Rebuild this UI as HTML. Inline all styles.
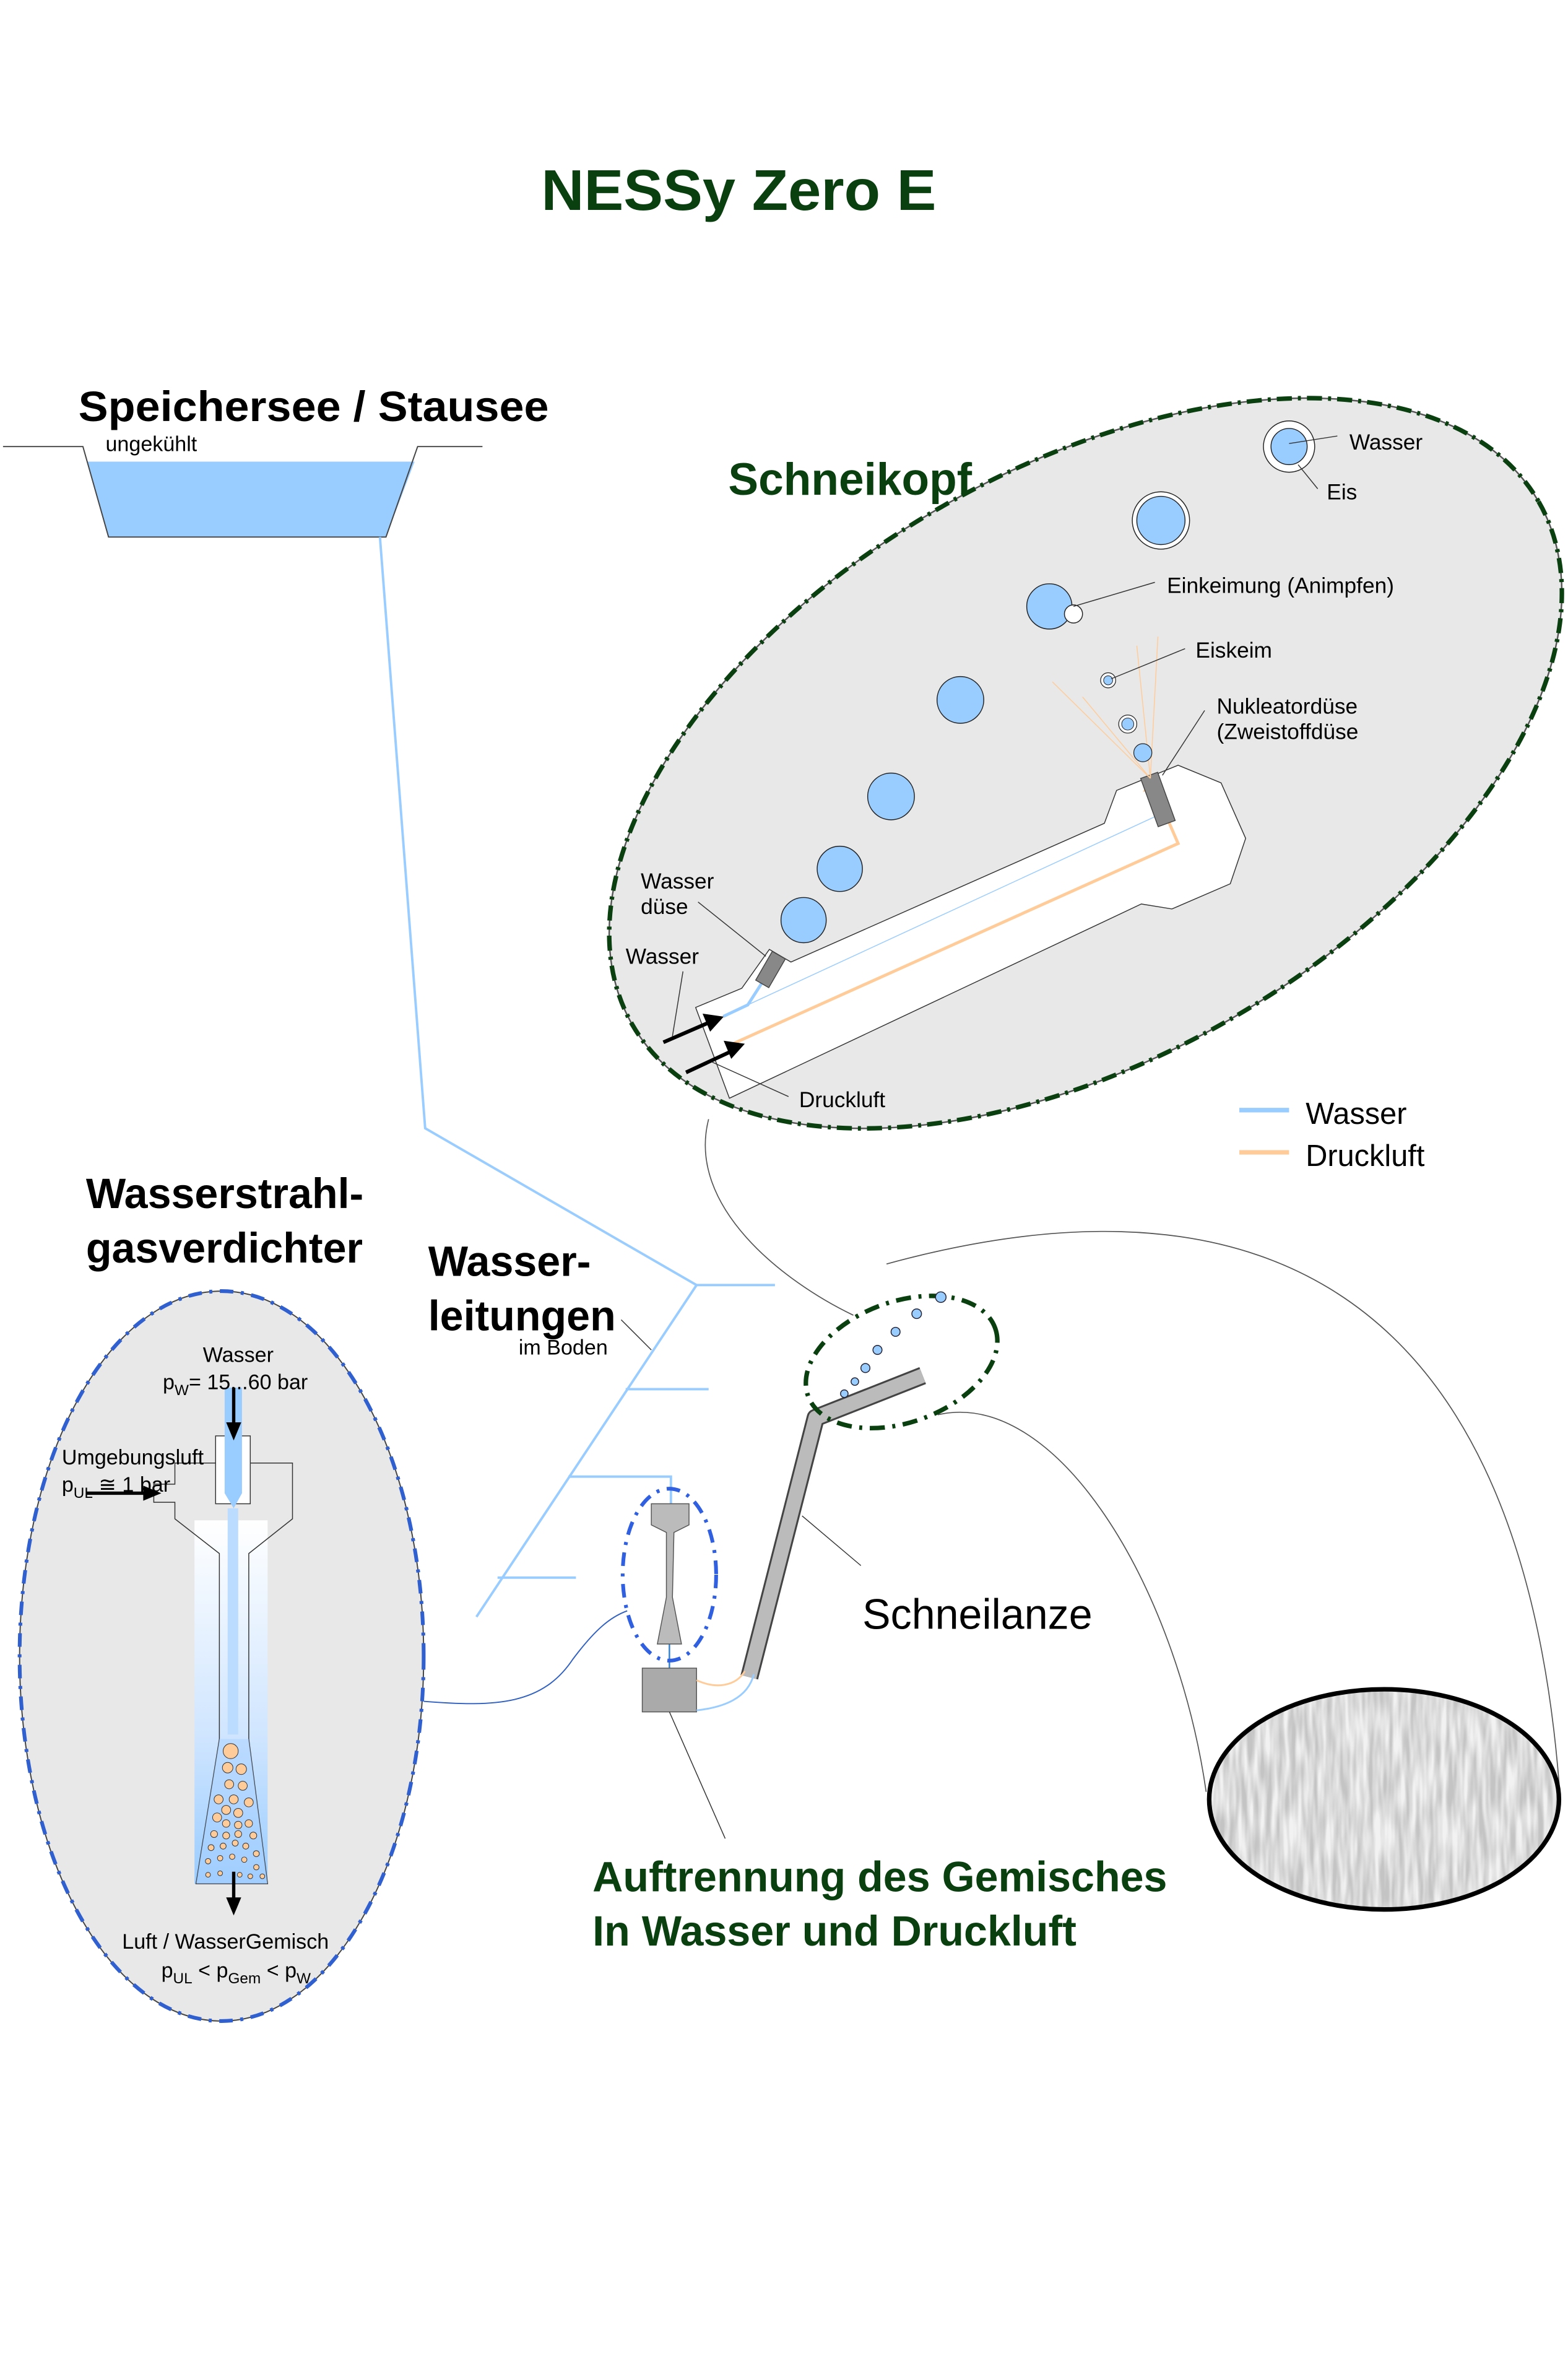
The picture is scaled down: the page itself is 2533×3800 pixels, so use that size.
<!DOCTYPE html>
<html><head><meta charset="utf-8"><style>html,body{margin:0;padding:0;background:#fff}svg{display:block}</style></head>
<body>
<svg xmlns="http://www.w3.org/2000/svg" width="2533" height="3800" viewBox="0 0 1040 1560" font-family="Liberation Sans, sans-serif">
<defs>
<linearGradient id="ej" x1="0" y1="0" x2="0" y2="1"><stop offset="0" stop-color="#fff"/><stop offset="0.6" stop-color="#cfe5ff"/><stop offset="1" stop-color="#99ccff"/></linearGradient>
<filter id="snow" x="0" y="0" width="1" height="1"><feTurbulence type="fractalNoise" baseFrequency="0.25 0.03" numOctaves="2" seed="3"/><feColorMatrix type="matrix" values="0 0 0 0 0.55  0 0 0 0 0.55  0 0 0 0 0.55  0 0 0 -2.2 1.6"/></filter>
<clipPath id="snowclip"><ellipse cx="918" cy="1193" rx="116" ry="73"/></clipPath>
</defs>
<rect width="1040" height="1560" fill="#fff"/>

<text x="490" y="139" text-anchor="middle" font-size="38" font-weight="bold" fill="#0a3f10" textLength="262" lengthAdjust="spacingAndGlyphs">NESSy Zero E</text>

<!-- lake -->
<text x="52" y="279" font-size="28" font-weight="bold" textLength="312" lengthAdjust="spacingAndGlyphs">Speichersee / Stausee</text>
<polygon points="58,306 275,306 256,356 72,356" fill="#99ccff"/>
<polyline points="2,296 55,296 72,356 256,356 277,296 320,296" fill="none" stroke="#444" stroke-width="0.8"/>
<text x="70" y="299" font-size="14">ungekühlt</text>

<!-- water lines -->
<g stroke="#99ccff" stroke-width="1.6" fill="none">
<polyline points="252,356 282,748 462,852"/>
<line x1="462" y1="852" x2="316" y2="1072"/>
<line x1="462" y1="852" x2="514" y2="852"/>
<line x1="415" y1="921" x2="470" y2="921"/>
<polyline points="377,979 445,979 445,997"/>
<line x1="330" y1="1046" x2="382" y2="1046"/>
</g>
<text x="284" y="846" font-size="28" font-weight="bold">Wasser-</text>
<text x="284" y="882" font-size="28" font-weight="bold">leitungen</text>
<text x="344" y="898" font-size="14">im Boden</text>
<line x1="412" y1="875" x2="432" y2="895" stroke="#333" stroke-width="0.6"/>

<!-- Schneikopf ellipse -->
<ellipse cx="720" cy="506" rx="347" ry="195" transform="rotate(-30 720 506)" fill="#e8e8e8" stroke="#555" stroke-width="1"/>
<ellipse cx="720" cy="506" rx="347" ry="195" transform="rotate(-30 720 506)" fill="none" stroke="#0a3f10" stroke-width="3" stroke-dasharray="10 4 2 4"/>
<text x="483" y="328" font-size="30" font-weight="bold" fill="#0a3f10">Schneikopf</text>

<polygon points="483.8,728.1 461.4,667.9 492,655.2 510.3,629.4 524.6,637.8 732.5,545.8 740.6,524 781.4,507.3 809.9,519 826.2,555.8 816,585.9 777.3,602.6 757,599.3" fill="#fff" stroke="#333" stroke-width="0.6"/>
<line x1="496" y1="666.2" x2="771.2" y2="539" stroke="#99ccff" stroke-width="0.6"/>
<polyline points="483.8,693 781.4,559.2 764,519" fill="none" stroke="#ffcc99" stroke-width="2"/>
<polygon points="763,515 758,525 768,523" fill="#ffcc99"/>
<polyline points="479.7,673.9 496,666.2 516.4,634.4" fill="none" stroke="#99ccff" stroke-width="2"/>
<rect x="506" y="632" width="10" height="22" fill="#888" stroke="#444" stroke-width="0.6" transform="rotate(30 511.5 643)"/>
<rect x="762" y="513" width="12" height="34" fill="#888" stroke="#444" stroke-width="0.6" transform="rotate(-20 768 530)"/>
<g stroke="#ffcc99" stroke-width="0.6"><line x1="763" y1="516" x2="698" y2="452"/><line x1="763" y1="516" x2="718" y2="462"/><line x1="763" y1="516" x2="754" y2="428"/><line x1="763" y1="516" x2="768" y2="422"/></g>
<g stroke="#000" stroke-width="2.5"><line x1="440" y1="691" x2="470" y2="678"/><line x1="455" y1="711" x2="485" y2="697"/></g>
<polygon points="480,674 466,672 471,684" fill="#000"/><polygon points="494,692 480,690 485,702" fill="#000"/>

<g fill="#99ccff" stroke="#222" stroke-width="0.6">
<circle cx="533" cy="610" r="15"/><circle cx="557" cy="576" r="15"/><circle cx="591" cy="528" r="15.5"/><circle cx="637" cy="464" r="15.5"/><circle cx="696" cy="402" r="15"/>
</g>
<circle cx="712" cy="407" r="6" fill="#fff" stroke="#222" stroke-width="0.6"/>
<circle cx="770" cy="345" r="19" fill="#fff" stroke="#222" stroke-width="0.6"/><circle cx="770" cy="345" r="16" fill="#99ccff" stroke="#222" stroke-width="0.6"/>
<circle cx="855" cy="296" r="17" fill="#fff" stroke="#222" stroke-width="0.6"/><circle cx="855" cy="296" r="12" fill="#99ccff" stroke="#222" stroke-width="0.6"/>
<circle cx="735" cy="451" r="5" fill="#fff" stroke="#222" stroke-width="0.5"/><circle cx="735" cy="451" r="3" fill="#99ccff" stroke="#222" stroke-width="0.4"/>
<circle cx="748" cy="480" r="6" fill="#fff" stroke="#222" stroke-width="0.5"/><circle cx="748" cy="480" r="4" fill="#99ccff" stroke="#222" stroke-width="0.4"/>
<circle cx="758" cy="499" r="6" fill="#99ccff" stroke="#222" stroke-width="0.5"/>

<g stroke="#333" stroke-width="0.6">
<line x1="855" y1="294" x2="887" y2="289"/><line x1="861" y1="308" x2="874" y2="324"/>
<line x1="712" y1="402" x2="766" y2="386"/><line x1="737" y1="450" x2="786" y2="430"/>
<line x1="771" y1="514" x2="799" y2="471"/><line x1="463" y1="598" x2="508" y2="634"/>
<line x1="453" y1="644" x2="446" y2="687"/><line x1="472" y1="704" x2="523" y2="727"/>
</g>
<g font-size="14.5">
<text x="895" y="298">Wasser</text><text x="880" y="331">Eis</text>
<text x="774" y="393">Einkeimung (Animpfen)</text><text x="793" y="436">Eiskeim</text>
<text x="807" y="473">Nukleatordüse</text><text x="807" y="490">(Zweistoffdüse</text>
<text x="425" y="589">Wasser</text><text x="425" y="606">düse</text>
<text x="415" y="639">Wasser</text><text x="530" y="734">Druckluft</text>
</g>
<line x1="822" y1="736" x2="855" y2="736" stroke="#99ccff" stroke-width="3"/>
<line x1="822" y1="764" x2="855" y2="764" stroke="#ffcc99" stroke-width="3"/>
<text x="866" y="745" font-size="20">Wasser</text><text x="866" y="773" font-size="20">Druckluft</text>

<!-- connectors -->
<g fill="none" stroke="#555" stroke-width="0.7">
<path d="M470,742 C455,800 520,850 566,872"/>
<path d="M588,838 C800,780 1010,820 1035,1195"/>
<path d="M622,938 C700,920 780,1050 800,1188"/>
</g>
<path d="M281,1128 C330,1132 360,1130 380,1100 C395,1080 405,1072 416,1068" fill="none" stroke="#3060c0" stroke-width="0.8"/>

<!-- snow -->
<g clip-path="url(#snowclip)"><rect x="800" y="1118" width="236" height="150" fill="#f2f2f2"/><rect x="800" y="1118" width="236" height="150" filter="url(#snow)"/></g>
<ellipse cx="918" cy="1193" rx="116" ry="73" fill="none" stroke="#000" stroke-width="3"/>

<!-- lance -->
<path d="M497,1112 L541,940 L612,912" fill="none" stroke="#444" stroke-width="12" stroke-linejoin="round"/>
<path d="M497,1112 L541,940 L612,912" fill="none" stroke="#bbb" stroke-width="9.5" stroke-linejoin="round"/>
<ellipse cx="598" cy="903" rx="66" ry="40" transform="rotate(-20 598 903)" fill="none" stroke="#0a3f10" stroke-width="3" stroke-dasharray="10 5 2 5"/>
<g fill="#99ccff" stroke="#223" stroke-width="0.6">
<circle cx="560" cy="924" r="2.5"/><circle cx="567" cy="916" r="2.5"/><circle cx="574" cy="907" r="3"/><circle cx="582" cy="895" r="3"/><circle cx="594" cy="883" r="3"/><circle cx="608" cy="871" r="3.2"/><circle cx="624" cy="860" r="3.5"/>
</g>
<line x1="532" y1="1005" x2="571" y2="1038" stroke="#333" stroke-width="0.6"/>
<text x="572" y="1080" font-size="28">Schneilanze</text>

<!-- separator -->
<line x1="444" y1="1089" x2="444" y2="1106" stroke="#3080d0" stroke-width="1"/>
<polygon points="432,997 457,997 457,1011 447,1016 446,1059 452,1090 436,1090 442,1059 442,1016 432,1011" fill="#bbb" stroke="#555" stroke-width="0.6"/>
<ellipse cx="444" cy="1044" rx="31" ry="57" fill="none" stroke="#3060e0" stroke-width="2.5" stroke-dasharray="9 5 2 5"/>
<rect x="426" y="1106" width="36" height="29" fill="#aaa" stroke="#555" stroke-width="0.6"/>
<path d="M462,1114 C475,1120 488,1118 494,1108" fill="none" stroke="#ffcc99" stroke-width="1.2"/>
<path d="M462,1134 C480,1132 496,1126 500,1110" fill="none" stroke="#99ccff" stroke-width="1.2"/>
<line x1="444" y1="1135" x2="481" y2="1219" stroke="#333" stroke-width="0.6"/>
<text x="393" y="1254" font-size="28" font-weight="bold" fill="#0a3f10">Auftrennung des Gemisches</text>
<text x="393" y="1290" font-size="28" font-weight="bold" fill="#0a3f10">In Wasser und Druckluft</text>

<!-- ejector -->
<text x="57" y="801" font-size="28" font-weight="bold">Wasserstrahl-</text>
<text x="57" y="837" font-size="28" font-weight="bold">gasverdichter</text>
<ellipse cx="147" cy="1098" rx="134" ry="242" fill="#e8e8e8" stroke="#444" stroke-width="0.8"/>
<ellipse cx="147" cy="1098" rx="134" ry="242" fill="none" stroke="#3060d0" stroke-width="2.5" stroke-dasharray="9 5 2 5"/>
<rect x="129" y="1008" width="48.5" height="241" fill="url(#ej)"/>
<polygon points="116,970 194,970 194,1007 165,1030 165,1153 177.5,1249 130,1249 145.5,1153 145.5,1030 116,1007 116,996 102,996 102,984 116,984" fill="none" stroke="#333" stroke-width="0.6"/>
<polygon points="145.5,1153 165,1153 177.5,1249 130,1249" fill="#a8d0ff" fill-opacity="0.5"/>
<rect x="143" y="952" width="23" height="45" fill="#fff" stroke="#333" stroke-width="0.6"/>
<polygon points="149,920 160.5,920 160.5,990 155,1000 149,990" fill="#99ccff"/>
<g fill="#99ccff">
<rect x="151" y="1000" width="7" height="150" fill="#bcdcff"/>
</g>
<g fill="#ffcc99" stroke="#333" stroke-width="0.4">
<circle cx="153" cy="1161" r="5"/><circle cx="151" cy="1172" r="3.5"/><circle cx="160" cy="1173" r="3.5"/><circle cx="152" cy="1183" r="3"/><circle cx="161" cy="1184" r="3"/><circle cx="145" cy="1193" r="3"/><circle cx="155" cy="1193" r="3"/><circle cx="165" cy="1195" r="3"/><circle cx="150" cy="1200" r="3"/><circle cx="158" cy="1202" r="3"/><circle cx="144" cy="1205" r="3"/><circle cx="150" cy="1209" r="2.5"/><circle cx="158" cy="1210" r="2.5"/><circle cx="165" cy="1209" r="2.5"/><circle cx="142" cy="1216" r="2.3"/><circle cx="150" cy="1217" r="2.3"/><circle cx="158" cy="1216" r="2.3"/><circle cx="168" cy="1217" r="2.3"/><circle cx="140" cy="1225" r="2"/><circle cx="148" cy="1224" r="2"/><circle cx="156" cy="1222" r="2"/><circle cx="163" cy="1224" r="2"/><circle cx="170" cy="1229" r="2"/><circle cx="138" cy="1234" r="1.8"/><circle cx="146" cy="1232" r="1.8"/><circle cx="154" cy="1231" r="1.8"/><circle cx="162" cy="1233" r="1.8"/><circle cx="170" cy="1238" r="1.8"/><circle cx="138" cy="1243" r="1.6"/><circle cx="146" cy="1242" r="1.6"/><circle cx="159" cy="1243" r="1.6"/><circle cx="166" cy="1244" r="1.6"/><circle cx="174" cy="1244" r="1.6"/>
</g>
<g stroke="#000" stroke-width="2.2"><line x1="155" y1="920" x2="155" y2="945"/><line x1="57" y1="990" x2="96" y2="990"/><line x1="155" y1="1241" x2="155" y2="1260"/></g>
<polygon points="155,955 150,943 160,943" fill="#000"/><polygon points="107,990 95,985 95,995" fill="#000"/><polygon points="155,1270 150,1258 160,1258" fill="#000"/>
<g font-size="14">
<text x="158" y="903" text-anchor="middle">Wasser</text>
<text x="108" y="921">p<tspan font-size="10" dy="4">W</tspan><tspan dy="-4">= 15...60 bar</tspan></text>
<text x="41" y="971">Umgebungsluft</text>
<text x="41" y="989">p<tspan font-size="10" dy="4">UL</tspan><tspan dy="-4"> ≅ 1 bar</tspan></text>
<text x="81" y="1292">Luft / WasserGemisch</text>
<text x="107" y="1311">p<tspan font-size="10" dy="4">UL</tspan><tspan dy="-4"> &lt; p</tspan><tspan font-size="10" dy="4">Gem</tspan><tspan dy="-4"> &lt; p</tspan><tspan font-size="10" dy="4">W</tspan></text>
</g>
</svg>
</body></html>
